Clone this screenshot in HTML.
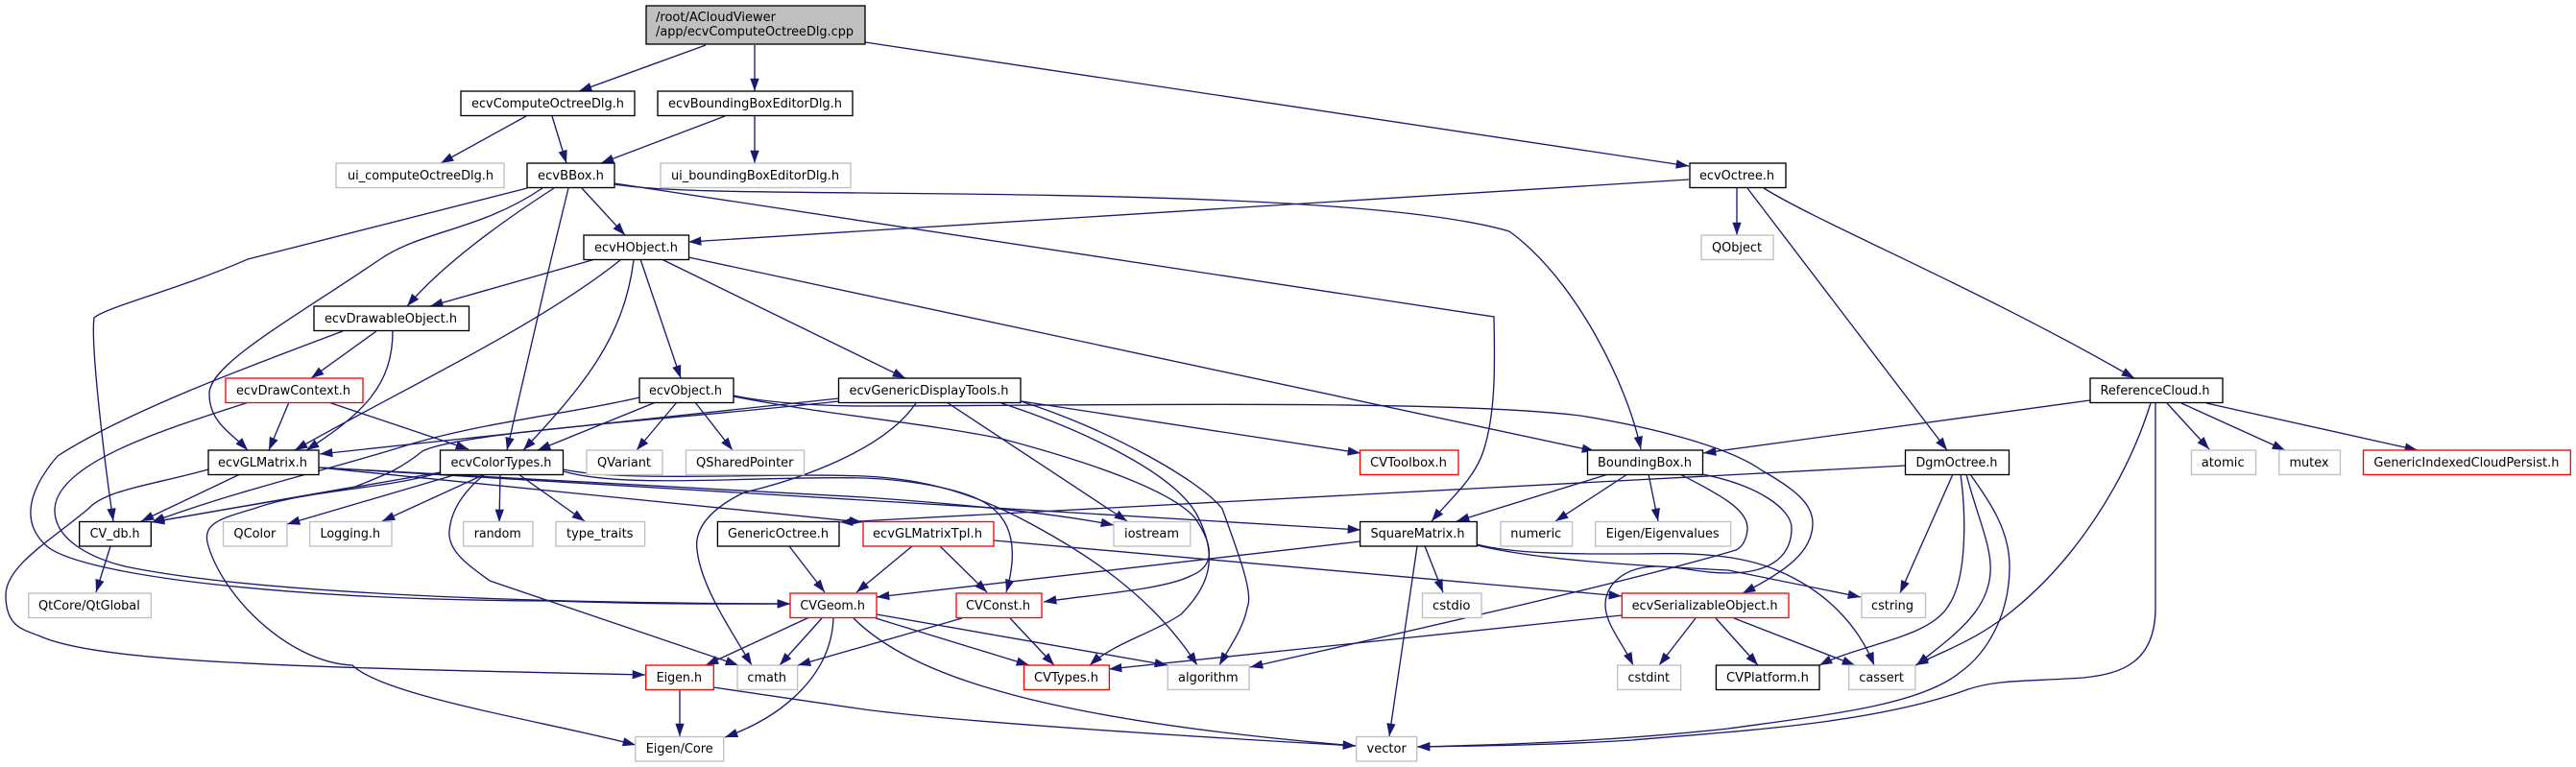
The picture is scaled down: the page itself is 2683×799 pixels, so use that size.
<!DOCTYPE html>
<html><head><meta charset="utf-8"><style>
html,body{margin:0;padding:0;background:#fff;width:2683px;height:799px;overflow:hidden}
svg{display:block}
.e path{fill:none;stroke:#191970;stroke-width:1.33;marker-end:url(#a)}
rect{fill:#fff;stroke-width:1.33}
.k{stroke:#000}.g{stroke:#bfbfbf}.r{stroke:#f00}
text{font-family:"DejaVu Sans",sans-serif;font-size:13px;fill:#000}
</style></head><body>
<svg width="2683" height="799" viewBox="0 0 2683 799" xmlns="http://www.w3.org/2000/svg">
<defs><marker id="a" markerUnits="userSpaceOnUse" markerWidth="15" markerHeight="11" refX="13.3" refY="4.67" orient="auto" overflow="visible"><path d="M0,0L13.3,4.67L0,9.33z" fill="#191970"/></marker></defs>
<g class="e">
<path d="M735,47L603,95"/>
<path d="M786,47L786,95"/>
<path d="M901,44L1759,173"/>
<path d="M548,121L459,170"/>
<path d="M575,121L590,170"/>
<path d="M755,121L626,170"/>
<path d="M786,121L786,170"/>
<path d="M606,196L651,245"/>
<path d="M549,196L258,270C190,300 110,320 98,331C94,360 110,490 118,543"/>
<path d="M565,196C500,240 440,240 396,270C300,335 218,380 218,410C218,440 240,450 258,469"/>
<path d="M577,196Q470,265 424,319"/>
<path d="M592,196L574,270L528,469"/>
<path d="M640,191L1556,330C1557,380 1558,430 1545,470C1535,500 1510,520 1491,543"/>
<path d="M640,192C690,200 800,200 900,201C1100,203 1450,205 1572,241C1640,290 1695,400 1709,468"/>
<path d="M620,270L448,319"/>
<path d="M646,271C560,340 410,410 307,469"/>
<path d="M409,345C409,400 380,430 319,469"/>
<path d="M660,271C650,350 610,400 545,469"/>
<path d="M667,270L709,394"/>
<path d="M689,270L943,394"/>
<path d="M717,268L1661,470"/>
<path d="M1759,187L717,252"/>
<path d="M1809,196L1809,245"/>
<path d="M1820,196L2028,469"/>
<path d="M1837,196C1900,235 2060,300 2223,394"/>
<path d="M2177,417L1774,472"/>
<path d="M2240,420C2215,500 2160,590 2082,647C2050,670 2020,680 1995,693"/>
<path d="M2245,420L2245,633C2245,690 2210,702 2170,706C2110,710 2080,708 2050,718C1950,755 1800,762 1700,771C1620,776 1550,777 1476,778"/>
<path d="M2257,420L2301,468"/>
<path d="M2272,420L2380,469"/>
<path d="M2298,420L2518,469"/>
<path d="M1985,485L875,544"/>
<path d="M2034,494L1979,618"/>
<path d="M2042,494C2047,530 2050,600 2030,630C2010,665 1940,670 1895,693"/>
<path d="M2048,494C2060,540 2075,570 2073,597C2070,640 2030,665 1996,693"/>
<path d="M2052,494C2070,520 2093,550 2093,590C2093,640 2070,680 2042,700C2000,735 1900,745 1800,759C1700,770 1600,775 1476,778"/>
<path d="M1675,494L1517,543"/>
<path d="M1695,494L1620,543"/>
<path d="M1717,494L1727,543"/>
<path d="M1750,494C1790,515 1820,530 1820,550C1820,560 1815,570 1808,573C1700,605 1500,650 1302,695"/>
<path d="M1773,494C1830,505 1866,530 1866,550C1866,575 1850,597 1800,597C1770,597 1750,590 1727,590C1690,590 1672,610 1672,630C1672,650 1690,670 1701,693"/>
<path d="M764,412C800,420 860,423 900,423C1100,423 1500,415 1646,433C1720,445 1800,465 1835,490C1870,510 1888,525 1888,545C1888,575 1860,595 1815,618"/>
<path d="M1417,564L913,622"/>
<path d="M1484,569L1503,617"/>
<path d="M1476,569L1447,767"/>
<path d="M1538,567C1580,578 1650,577 1700,577C1760,576 1810,576 1853,595C1900,615 1935,650 1952,693"/>
<path d="M1538,568C1600,583 1700,589 1800,594L1938,622"/>
<path d="M1035,563L1689,621"/>
<path d="M950,569L892,617"/>
<path d="M979,569L1028,617"/>
<path d="M822,569L859,617"/>
<path d="M843,643L735,693"/>
<path d="M856,644L812,693"/>
<path d="M868,644C866,700 820,745 755,768"/>
<path d="M912,644L1072,693"/>
<path d="M913,640L1216,693"/>
<path d="M889,644C950,705 1090,750 1412,777"/>
<path d="M1002,644L831,693"/>
<path d="M1052,644L1098,693"/>
<path d="M708,718L708,767"/>
<path d="M743,716L900,739C1000,752 1200,765 1412,777"/>
<path d="M1689,641L1155,697"/>
<path d="M1766,644L1728,693"/>
<path d="M1787,644L1831,693"/>
<path d="M1806,644L1932,693"/>
<path d="M250,494L147,543"/>
<path d="M217,489C160,505 110,510 92,530C50,565 6,590 6,620C6,650 20,655 40,662C100,690 300,695 672,703"/>
<path d="M332,487L898,544"/>
<path d="M332,487L1417,552"/>
<path d="M332,487L900,518C1000,525 1100,535 1160,547"/>
<path d="M459,492L158,544"/>
<path d="M476,494L299,546"/>
<path d="M505,494L398,543"/>
<path d="M459,492C400,510 320,510 264,530C230,540 212,545 216,565C230,620 300,690 367,693C400,725 560,750 662,776"/>
<path d="M505,494C485,510 470,530 468,553C466,575 490,590 510,605L769,693"/>
<path d="M521,494L520,544"/>
<path d="M540,494L609,543"/>
<path d="M587,491C650,510 800,495 900,498C950,500 1010,510 1032,528C1055,545 1060,575 1048,617"/>
<path d="M587,489C650,503 800,492 900,496C970,499 1020,518 1063,540C1130,575 1200,620 1247,693"/>
<path d="M954,420C920,470 830,500 775,513C750,525 722,545 726,573C730,610 760,655 783,693"/>
<path d="M1063,418C1150,445 1250,500 1273,530C1295,590 1305,620 1299,633C1295,655 1280,675 1270,693"/>
<path d="M1043,420C1120,445 1220,490 1246,535C1270,580 1260,610 1230,640C1200,660 1160,670 1135,693"/>
<path d="M764,413C860,432 960,440 1043,457C1130,480 1220,510 1245,540C1265,570 1265,590 1240,600C1210,615 1130,620 1087,627"/>
<path d="M986,419L1174,543"/>
<path d="M1064,418L1417,472"/>
<path d="M874,415L333,473"/>
<path d="M874,418C700,437 480,450 440,470C415,490 400,495 370,507L158,544"/>
<path d="M666,414C600,430 500,440 420,465C340,490 250,510 158,544"/>
<path d="M683,419L560,469"/>
<path d="M705,419L663,469"/>
<path d="M724,419L763,469"/>
<path d="M392,345L324,394"/>
<path d="M357,345C250,385 130,430 60,475C30,510 20,545 50,570C90,600 300,625 574,626C700,630 760,629 823,629"/>
<path d="M259,419C180,445 60,480 57,530C56,560 90,580 130,590C250,615 500,628 823,629"/>
<path d="M301,419L280,469"/>
<path d="M342,419L488,468"/>
<path d="M115,569L100,617"/>
</g>
<g>
<rect class="k" x="673" y="6" width="228" height="40" style="fill:#bfbfbf"/>
<text x="683" y="22" textLength="125" lengthAdjust="spacingAndGlyphs">/root/ACloudViewer</text>
<text x="683" y="37" textLength="206" lengthAdjust="spacingAndGlyphs">/app/ecvComputeOctreeDlg.cpp</text>

<rect class="k" x="480" y="95" width="181" height="25.5"/><text x="491" y="112" textLength="159" lengthAdjust="spacingAndGlyphs">ecvComputeOctreeDlg.h</text>
<rect class="k" x="685" y="95" width="203" height="25.5"/><text x="696" y="112" textLength="181" lengthAdjust="spacingAndGlyphs">ecvBoundingBoxEditorDlg.h</text>
<rect class="g" x="350" y="170" width="175" height="25.5"/><text x="362" y="187" textLength="152" lengthAdjust="spacingAndGlyphs">ui_computeOctreeDlg.h</text>
<rect class="k" x="549" y="170" width="91" height="25.5"/><text x="560" y="187" textLength="69" lengthAdjust="spacingAndGlyphs">ecvBBox.h</text>
<rect class="g" x="688" y="170" width="198" height="25.5"/><text x="699" y="187" textLength="175" lengthAdjust="spacingAndGlyphs">ui_boundingBoxEditorDlg.h</text>
<rect class="k" x="608" y="245" width="109.500" height="25.5"/><text x="619" y="262" textLength="87" lengthAdjust="spacingAndGlyphs">ecvHObject.h</text>
<rect class="k" x="1760" y="170" width="100" height="25.5"/><text x="1770" y="187" textLength="78" lengthAdjust="spacingAndGlyphs">ecvOctree.h</text>
<rect class="g" x="1772" y="245" width="75" height="25.5"/><text x="1783" y="262" textLength="52" lengthAdjust="spacingAndGlyphs">QObject</text>

<rect class="k" x="327" y="319" width="161.500" height="25.5"/><text x="338" y="336" textLength="138" lengthAdjust="spacingAndGlyphs">ecvDrawableObject.h</text>
<rect class="r" x="235" y="394" width="143" height="25.5"/><text x="246" y="411" textLength="119" lengthAdjust="spacingAndGlyphs">ecvDrawContext.h</text>
<rect class="k" x="666" y="394" width="98" height="25.5"/><text x="676" y="411" textLength="76" lengthAdjust="spacingAndGlyphs">ecvObject.h</text>
<rect class="k" x="873.500" y="394" width="189.500" height="25.5"/><text x="884.500" y="411" textLength="166" lengthAdjust="spacingAndGlyphs">ecvGenericDisplayTools.h</text>
<rect class="k" x="2177" y="394" width="138" height="25.5"/><text x="2187.500" y="411" textLength="114" lengthAdjust="spacingAndGlyphs">ReferenceCloud.h</text>

<rect class="k" x="217" y="469" width="115" height="25.5"/><text x="227" y="486" textLength="93" lengthAdjust="spacingAndGlyphs">ecvGLMatrix.h</text>
<rect class="k" x="458.500" y="469" width="128" height="25.5"/><text x="469.500" y="486" textLength="105" lengthAdjust="spacingAndGlyphs">ecvColorTypes.h</text>
<rect class="g" x="611" y="469" width="79" height="25.5"/><text x="622" y="486" textLength="56" lengthAdjust="spacingAndGlyphs">QVariant</text>
<rect class="g" x="714.500" y="469" width="123" height="25.5"/><text x="725" y="486" textLength="101.500" lengthAdjust="spacingAndGlyphs">QSharedPointer</text>
<rect class="r" x="1416.500" y="469" width="102.500" height="25.5"/><text x="1427" y="486" textLength="80" lengthAdjust="spacingAndGlyphs">CVToolbox.h</text>
<rect class="k" x="1653.500" y="469" width="120" height="25.5"/><text x="1664" y="486" textLength="98" lengthAdjust="spacingAndGlyphs">BoundingBox.h</text>
<rect class="k" x="1984.500" y="469" width="108" height="25.5"/><text x="1995.500" y="486" textLength="85" lengthAdjust="spacingAndGlyphs">DgmOctree.h</text>
<rect class="g" x="2282.500" y="469" width="67" height="25.5"/><text x="2292.700" y="486" textLength="45" lengthAdjust="spacingAndGlyphs">atomic</text>
<rect class="g" x="2373.800" y="469" width="63.600" height="25.5"/><text x="2384.500" y="486" textLength="41" lengthAdjust="spacingAndGlyphs">mutex</text>
<rect class="r" x="2461.500" y="469" width="215.800" height="25.5"/><text x="2472.400" y="486" textLength="193" lengthAdjust="spacingAndGlyphs">GenericIndexedCloudPersist.h</text>

<rect class="k" x="82.700" y="543.500" width="74.600" height="25.5"/><text x="93.600" y="560" textLength="52" lengthAdjust="spacingAndGlyphs">CV_db.h</text>
<rect class="g" x="232.500" y="543.500" width="66.500" height="25.5"/><text x="243.400" y="560" textLength="44" lengthAdjust="spacingAndGlyphs">QColor</text>
<rect class="g" x="322.600" y="543.500" width="85.400" height="25.5"/><text x="333.500" y="560" textLength="62.500" lengthAdjust="spacingAndGlyphs">Logging.h</text>
<rect class="g" x="482.700" y="543.500" width="72.300" height="25.5"/><text x="493.700" y="560" textLength="49" lengthAdjust="spacingAndGlyphs">random</text>
<rect class="g" x="579" y="543.500" width="92.600" height="25.5"/><text x="590" y="560" textLength="69.500" lengthAdjust="spacingAndGlyphs">type_traits</text>
<rect class="k" x="747.400" y="543.500" width="126.600" height="25.5"/><text x="758" y="560" textLength="105" lengthAdjust="spacingAndGlyphs">GenericOctree.h</text>
<rect class="r" x="899" y="543.500" width="136" height="25.5"/><text x="909" y="560" textLength="114" lengthAdjust="spacingAndGlyphs">ecvGLMatrixTpl.h</text>
<rect class="g" x="1160" y="543.500" width="79.800" height="25.5"/><text x="1171" y="560" textLength="57" lengthAdjust="spacingAndGlyphs">iostream</text>
<rect class="k" x="1416.600" y="543.500" width="121.700" height="25.5"/><text x="1427.500" y="560" textLength="98" lengthAdjust="spacingAndGlyphs">SquareMatrix.h</text>
<rect class="g" x="1563" y="543.500" width="74.600" height="25.5"/><text x="1573.300" y="560" textLength="53" lengthAdjust="spacingAndGlyphs">numeric</text>
<rect class="g" x="1661.700" y="543.500" width="141" height="25.5"/><text x="1672.600" y="560" textLength="118" lengthAdjust="spacingAndGlyphs">Eigen/Eigenvalues</text>

<rect class="g" x="29.800" y="618" width="127.500" height="25.5"/><text x="40" y="635" textLength="105.800" lengthAdjust="spacingAndGlyphs">QtCore/QtGlobal</text>
<rect class="r" x="823" y="618" width="90" height="25.5"/><text x="833.400" y="635" textLength="67.500" lengthAdjust="spacingAndGlyphs">CVGeom.h</text>
<rect class="r" x="996" y="618" width="89" height="25.5"/><text x="1006" y="635" textLength="67" lengthAdjust="spacingAndGlyphs">CVConst.h</text>
<rect class="g" x="1481.500" y="618" width="61.500" height="25.5"/><text x="1492" y="635" textLength="39.500" lengthAdjust="spacingAndGlyphs">cstdio</text>
<rect class="r" x="1689.300" y="618" width="173.700" height="25.5"/><text x="1699.600" y="635" textLength="152" lengthAdjust="spacingAndGlyphs">ecvSerializableObject.h</text>
<rect class="g" x="1939" y="618" width="66.500" height="25.5"/><text x="1949" y="635" textLength="44" lengthAdjust="spacingAndGlyphs">cstring</text>

<rect class="r" x="672.700" y="693" width="70.600" height="25.5"/><text x="683.600" y="710" textLength="47.400" lengthAdjust="spacingAndGlyphs">Eigen.h</text>
<rect class="g" x="768" y="693" width="62.600" height="25.5"/><text x="778.400" y="710" textLength="40.600" lengthAdjust="spacingAndGlyphs">cmath</text>
<rect class="r" x="1066.500" y="693" width="88.900" height="25.5"/><text x="1077" y="710" textLength="67" lengthAdjust="spacingAndGlyphs">CVTypes.h</text>
<rect class="g" x="1216.300" y="693" width="84.700" height="25.5"/><text x="1227" y="710" textLength="62.700" lengthAdjust="spacingAndGlyphs">algorithm</text>
<rect class="g" x="1684.700" y="693" width="65.900" height="25.5"/><text x="1695.500" y="710" textLength="43.500" lengthAdjust="spacingAndGlyphs">cstdint</text>
<rect class="k" x="1787.400" y="693" width="107.600" height="25.5"/><text x="1798" y="710" textLength="85.900" lengthAdjust="spacingAndGlyphs">CVPlatform.h</text>
<rect class="g" x="1925.600" y="693" width="69.200" height="25.5"/><text x="1936.300" y="710" textLength="46.700" lengthAdjust="spacingAndGlyphs">cassert</text>

<rect class="g" x="661.800" y="767.500" width="91.900" height="25.5"/><text x="672.700" y="784" textLength="70" lengthAdjust="spacingAndGlyphs">Eigen/Core</text>
<rect class="g" x="1412.600" y="767.500" width="63.100" height="25.5"/><text x="1423.500" y="784" textLength="41.300" lengthAdjust="spacingAndGlyphs">vector</text>
</g>
</svg>
</body></html>
